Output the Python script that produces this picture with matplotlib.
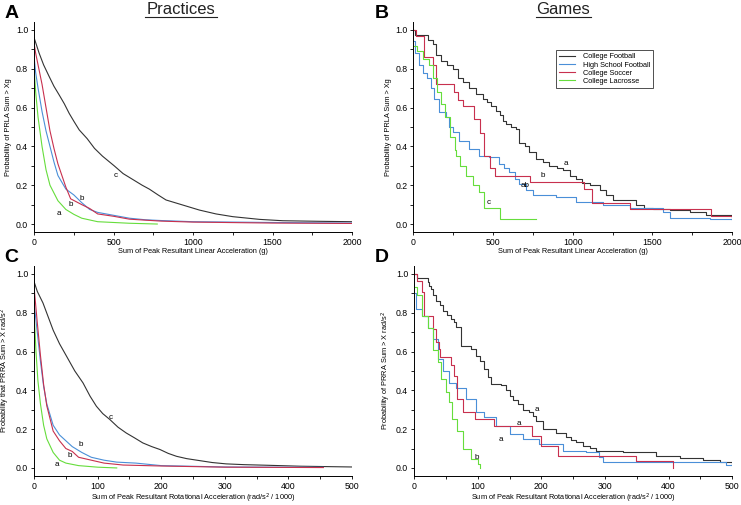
import numpy as np
import matplotlib.pyplot as plt
from matplotlib.lines import Line2D
from matplotlib.ticker import MultipleLocator

plt.rcParams['font.family'] = ['Liberation Sans', 'DejaVu Sans']

teams = ["College Football", "High School Football", "College Soccer", "College Lacrosse"]
colors = ["#333333", "#4a8fd8", "#c8304e", "#66dd3c"]

# Panel A: practices, linear acceleration (g)
a_cf_x = [0, 12, 32, 60, 95, 125, 158, 190, 221, 250, 284, 334, 380, 430, 504, 560, 620, 680, 725, 780, 830, 935, 1040, 1145, 1250, 1418, 1565, 1800, 2000]
a_cf_y = [0.96, 0.93, 0.88, 0.82, 0.76, 0.71, 0.665, 0.62, 0.57, 0.53, 0.485, 0.44, 0.39, 0.35, 0.30, 0.26, 0.23, 0.20, 0.18, 0.15, 0.124, 0.098, 0.072, 0.052, 0.038, 0.024, 0.017, 0.014, 0.012]
a_hs_x = [0, 10, 25, 50, 75, 100, 125, 150, 200, 250, 300, 350, 400, 500, 600, 700, 800, 1000, 1500, 2000]
a_hs_y = [0.86, 0.78, 0.70, 0.58, 0.48, 0.40, 0.32, 0.25, 0.18, 0.15, 0.11, 0.075, 0.06, 0.045, 0.03, 0.022, 0.018, 0.012, 0.008, 0.005]
a_cs_x = [0, 10, 25, 50, 75, 100, 125, 150, 200, 230, 300, 350, 400, 500, 600, 800, 1000, 1500, 2000]
a_cs_y = [0.93, 0.88, 0.82, 0.72, 0.60, 0.48, 0.39, 0.31, 0.19, 0.13, 0.10, 0.08, 0.052, 0.04, 0.025, 0.015, 0.01, 0.005, 0.003]
a_cl_x = [0, 10, 25, 50, 75, 100, 150, 200, 250, 300, 400, 500, 600, 775]
a_cl_y = [0.80, 0.68, 0.55, 0.40, 0.28, 0.20, 0.12, 0.075, 0.05, 0.03, 0.012, 0.008, 0.004, 0.0]

# Panel B: games, linear acceleration (g)
b_cf_x = [0, 10, 94, 120, 140, 172, 210, 245, 277, 310, 350, 395, 434, 460, 486, 518, 540, 560, 581, 610, 644, 665, 700, 727, 770, 810, 853, 900, 937, 980, 1021, 1060, 1105, 1168, 1210, 1252, 1356, 1398, 1450, 1503, 1608, 1734, 1838, 2000]
b_cf_y = [1.0, 0.975, 0.95, 0.93, 0.87, 0.84, 0.82, 0.80, 0.75, 0.73, 0.70, 0.67, 0.645, 0.63, 0.61, 0.58, 0.56, 0.53, 0.516, 0.50, 0.49, 0.42, 0.40, 0.37, 0.336, 0.32, 0.30, 0.29, 0.276, 0.25, 0.233, 0.21, 0.20, 0.173, 0.15, 0.122, 0.122, 0.096, 0.085, 0.079, 0.074, 0.062, 0.048, 0.036]
b_hs_x = [0, 10, 36, 60, 88, 110, 130, 161, 203, 225, 245, 287, 350, 413, 476, 539, 570, 602, 640, 665, 707, 748, 895, 1021, 1189, 1356, 1566, 1608, 1860, 2000]
b_hs_y = [0.945, 0.88, 0.82, 0.78, 0.75, 0.70, 0.645, 0.576, 0.55, 0.50, 0.473, 0.43, 0.388, 0.353, 0.345, 0.31, 0.29, 0.268, 0.23, 0.208, 0.173, 0.148, 0.139, 0.113, 0.096, 0.082, 0.062, 0.033, 0.027, 0.022]
b_cs_x = [0, 15, 67, 120, 140, 256, 280, 310, 380, 420, 440, 480, 510, 730, 1070, 1120, 1360, 1870, 2000]
b_cs_y = [1.0, 0.97, 0.86, 0.82, 0.72, 0.68, 0.64, 0.61, 0.54, 0.47, 0.35, 0.29, 0.25, 0.215, 0.18, 0.11, 0.075, 0.04, 0.03]
b_cl_x = [0, 20, 60, 100, 120, 150, 170, 200, 230, 260, 270, 290, 329, 371, 413, 444, 545, 770]
b_cl_y = [0.92, 0.89, 0.85, 0.82, 0.75, 0.68, 0.62, 0.55, 0.45, 0.38, 0.35, 0.30, 0.25, 0.20, 0.165, 0.084, 0.027, 0.027]

# Panel C: practices, rotational acceleration (rad/s^2 / 1000)
c_cf_x = [0, 5, 14, 22, 30, 40, 51, 64, 77, 88, 98, 108, 119, 132, 145, 158, 171, 185, 198, 211, 224, 240, 260, 280, 302, 330, 365, 418, 500]
c_cf_y = [0.96, 0.91, 0.85, 0.78, 0.71, 0.64, 0.576, 0.50, 0.438, 0.37, 0.318, 0.28, 0.25, 0.21, 0.18, 0.155, 0.129, 0.11, 0.095, 0.075, 0.06, 0.048, 0.038, 0.028, 0.021, 0.017, 0.014, 0.009, 0.005]
c_hs_x = [0, 5, 10, 15, 20, 30, 40, 50, 60, 75, 90, 110, 130, 160, 200, 300, 455]
c_hs_y = [0.85, 0.70, 0.55, 0.42, 0.33, 0.22, 0.17, 0.14, 0.11, 0.08, 0.055, 0.04, 0.03, 0.025, 0.012, 0.005, 0.003]
c_cs_x = [0, 5, 10, 15, 20, 30, 40, 50, 60, 70, 90, 110, 140, 200, 300, 455]
c_cs_y = [0.93, 0.75, 0.58, 0.43, 0.32, 0.19, 0.14, 0.10, 0.085, 0.055, 0.04, 0.025, 0.015, 0.01, 0.004, 0.002]
c_cl_x = [0, 3, 6, 10, 15, 20, 30, 40, 50, 70, 100, 130]
c_cl_y = [0.80, 0.60, 0.45, 0.33, 0.22, 0.15, 0.08, 0.04, 0.025, 0.012, 0.004, 0.0]

# Panel D: games, rotational acceleration (rad/s^2 / 1000)
d_cf_x = [0, 5, 21, 24, 26, 30, 34, 40, 45, 52, 58, 62, 66, 74, 89, 97, 104, 110, 116, 121, 137, 144, 150, 155, 163, 171, 181, 187, 192, 202, 223, 239, 247, 255, 266, 276, 286, 328, 381, 418, 454, 481, 500]
d_cf_y = [1.0, 0.978, 0.96, 0.94, 0.92, 0.89, 0.862, 0.84, 0.81, 0.79, 0.77, 0.75, 0.725, 0.63, 0.613, 0.579, 0.55, 0.51, 0.47, 0.433, 0.428, 0.40, 0.373, 0.35, 0.33, 0.30, 0.29, 0.27, 0.244, 0.20, 0.18, 0.158, 0.145, 0.132, 0.115, 0.103, 0.086, 0.081, 0.064, 0.05, 0.041, 0.03, 0.02]
d_hs_x = [0, 3, 13, 21, 29, 37, 45, 55, 66, 81, 97, 110, 129, 150, 171, 197, 234, 270, 291, 297, 486, 491, 500]
d_hs_y = [0.90, 0.82, 0.785, 0.72, 0.665, 0.56, 0.50, 0.44, 0.41, 0.356, 0.287, 0.26, 0.218, 0.175, 0.15, 0.124, 0.089, 0.08, 0.055, 0.03, 0.03, 0.017, 0.017]
d_cs_x = [0, 5, 13, 16, 29, 34, 39, 40, 58, 63, 68, 76, 95, 126, 186, 200, 226, 349, 407]
d_cs_y = [1.0, 0.965, 0.905, 0.785, 0.716, 0.648, 0.613, 0.57, 0.53, 0.476, 0.356, 0.287, 0.253, 0.218, 0.167, 0.115, 0.064, 0.034, 0.0]
d_cl_x = [0, 5, 13, 21, 29, 37, 42, 50, 55, 60, 68, 76, 89, 100, 103]
d_cl_y = [0.93, 0.89, 0.785, 0.72, 0.61, 0.545, 0.46, 0.39, 0.34, 0.25, 0.19, 0.098, 0.046, 0.02, 0.0]

panels = [
    dict(letter="A", lx=0.006, pos=[0.046, 0.541, 0.429, 0.415], xmax=2000, xmaj=500, steps=False,
         xs=[a_cf_x, a_hs_x, a_cs_x, a_cl_x], ys=[a_cf_y, a_hs_y, a_cs_y, a_cl_y],
         ylabel="Probability of PRLA Sum > Xg",
         xlabel="Sum of Peak Resultant Linear Acceleration (g)",
         notes=[("c", 515, 0.25), ("b", 298, 0.13), ("b", 231, 0.10), ("a", 158, 0.055)]),
    dict(letter="B", lx=0.506, pos=[0.558, 0.541, 0.430, 0.415], xmax=2000, xmaj=500, steps=True,
         xs=[b_cf_x, b_hs_x, b_cs_x, b_cl_x], ys=[b_cf_y, b_hs_y, b_cs_y, b_cl_y],
         ylabel="Probability of PRLA Sum > Xg",
         xlabel="Sum of Peak Resultant Linear Acceleration (g)",
         notes=[("a", 958, 0.31), ("b", 811, 0.25), ("ab", 698, 0.20), ("c", 472, 0.113)]),
    dict(letter="C", lx=0.006, pos=[0.046, 0.058, 0.429, 0.415], xmax=500, xmaj=100, steps=False,
         xs=[c_cf_x, c_hs_x, c_cs_x, c_cl_x], ys=[c_cf_y, c_hs_y, c_cs_y, c_cl_y],
         ylabel="Probability that PRRA Sum > X rad/s$^2$",
         xlabel="Sum of Peak Resultant Rotational Acceleration (rad/s$^2$ / 1000)",
         notes=[("c", 120, 0.26), ("b", 73, 0.12), ("b", 56, 0.065), ("a", 36, 0.017)]),
    dict(letter="D", lx=0.506, pos=[0.559, 0.058, 0.429, 0.415], xmax=500, xmaj=100, steps=True,
         xs=[d_cf_x, d_hs_x, d_cs_x, d_cl_x], ys=[d_cf_y, d_hs_y, d_cs_y, d_cl_y],
         ylabel="Probability of PRRA Sum > X rad/s$^2$",
         xlabel="Sum of Peak Resultant Rotational Acceleration (rad/s$^2$ / 1000)",
         notes=[("a", 193, 0.30), ("a", 165, 0.23), ("a", 137, 0.146), ("b", 98, 0.055)]),
]

fig = plt.figure(figsize=(7.41, 5.05), dpi=100)

for p in panels:
    ax = fig.add_axes(p["pos"])
    for x, y, c, name in zip(p["xs"], p["ys"], colors, teams):
        ax.plot(x, y, color=c, lw=0.8, label=name,
                drawstyle="steps-post" if p["steps"] else "default")
    for txt, tx, ty in p["notes"]:
        ax.text(tx, ty, txt, fontsize=5.8, ha="center", va="center")
    ax.set_xlim(0, p["xmax"])
    ax.set_ylim(-0.04, 1.04)
    ax.xaxis.set_major_locator(MultipleLocator(p["xmaj"]))
    ax.xaxis.set_minor_locator(MultipleLocator(p["xmaj"] / 2))
    ax.yaxis.set_major_locator(MultipleLocator(0.2))
    ax.yaxis.set_minor_locator(MultipleLocator(0.1))
    ax.yaxis.set_major_formatter(plt.FormatStrFormatter("%.1f"))
    ax.spines["top"].set_visible(False)
    ax.spines["right"].set_visible(False)
    ax.spines["left"].set_linewidth(0.7)
    ax.spines["bottom"].set_linewidth(0.7)
    ax.tick_params(which="both", direction="out", length=2.5, width=0.6, labelsize=6.3, pad=1.8)
    ax.set_xlabel(p["xlabel"], fontsize=5.3, labelpad=1)
    ax.set_ylabel(p["ylabel"], fontsize=5.3, labelpad=2.5)
    fig.text(p["lx"], p["pos"][1] + p["pos"][3] + 0.008, p["letter"],
             fontsize=14, fontweight="bold", va="baseline", ha="left")
    if p["letter"] == "B":
        leg = ax.legend(loc="upper left", bbox_to_anchor=(0.435, 0.885), fontsize=5.3,
                        frameon=True, fancybox=False, handlelength=2.2,
                        borderpad=0.45, labelspacing=0.12, handletextpad=1.0)
        leg.get_frame().set_edgecolor("black")
        leg.get_frame().set_linewidth(0.6)

# underlined column titles
for label, cx, x0, x1 in [("Practices", 181 / 741, 145 / 741, 217 / 741),
                          ("Games", 563 / 741, 536 / 741, 591 / 741)]:
    fig.text(cx, 1 - 9.5 / 505, label, fontsize=12, ha="center", va="center", color="#222222")
    fig.add_artist(Line2D([x0, x1], [1 - 17 / 505] * 2, color="#222222", lw=0.8))

fig.savefig("out.png", dpi=100)
